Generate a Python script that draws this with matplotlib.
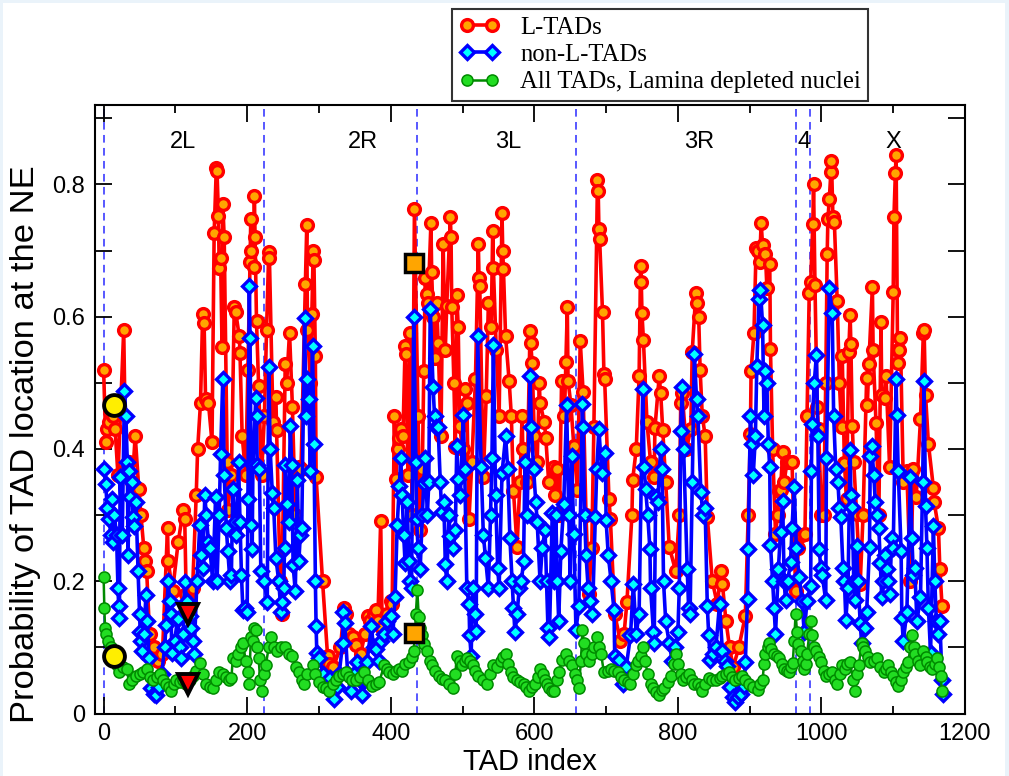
import numpy as np
import matplotlib.pyplot as plt
from matplotlib.patches import Rectangle

# (TAD index, probability)
ltads = [
    (0, 0.52), (3, 0.41), (5, 0.43), (8, 0.44), (10, 0.46), (13, 0.45), (16, 0.43), (20, 0.36),
    (28, 0.58), (31, 0.37), (35, 0.38), (40, 0.35), (44, 0.42), (49, 0.34), (52, 0.30), (56, 0.25),
    (58, 0.23), (60, 0.215), (64, 0.12), (70, 0.10), (76, 0.08), (82, 0.09), (89, 0.28), (90, 0.23),
    (96, 0.185), (104, 0.26), (111, 0.308), (113, 0.294), (115, 0.18), (120, 0.17), (124, 0.19),
    (129, 0.33), (131, 0.40), (135, 0.47), (138, 0.604), (140, 0.59), (142, 0.476), (146, 0.47),
    (151, 0.41), (154, 0.727), (157, 0.825), (158, 0.82), (160, 0.752), (161, 0.674), (163, 0.688),
    (165, 0.554), (166, 0.77), (168, 0.72), (172, 0.38), (173, 0.307), (178, 0.36), (182, 0.615),
    (184, 0.607), (189, 0.57), (190, 0.545), (193, 0.42), (198, 0.36), (201, 0.52), (204, 0.683),
    (205, 0.747), (206, 0.70), (209, 0.675), (210, 0.783), (211, 0.72), (213, 0.593), (216, 0.495),
    (220, 0.36), (224, 0.45), (227, 0.58), (230, 0.697), (231, 0.688), (236, 0.44), (240, 0.478),
    (241, 0.428), (246, 0.20), (248, 0.15), (253, 0.529), (255, 0.50), (259, 0.576), (263, 0.464),
    (267, 0.30), (272, 0.372), (275, 0.37), (281, 0.649), (283, 0.738), (284, 0.58), (288, 0.50),
    (290, 0.604), (292, 0.70), (293, 0.685), (295, 0.54), (296, 0.357), (305, 0.20), (312, 0.087),
    (314, 0.075), (320, 0.07), (330, 0.10), (335, 0.159), (337, 0.15), (342, 0.12), (347, 0.115),
    (352, 0.104), (358, 0.09), (364, 0.12), (368, 0.148), (371, 0.14), (376, 0.15), (379, 0.157),
    (382, 0.14), (386, 0.291), (388, 0.13), (395, 0.15), (400, 0.17), (402, 0.165), (405, 0.45),
    (407, 0.355), (410, 0.40), (412, 0.417), (414, 0.43), (417, 0.42), (420, 0.555), (421, 0.543),
    (424, 0.36), (427, 0.576), (430, 0.30), (433, 0.763), (438, 0.45), (441, 0.277), (444, 0.37),
    (446, 0.518), (448, 0.658), (450, 0.635), (452, 0.62), (456, 0.742), (457, 0.668), (459, 0.60),
    (462, 0.538), (464, 0.62), (466, 0.56), (470, 0.42), (473, 0.71), (476, 0.55), (478, 0.616),
    (483, 0.75), (484, 0.72), (485, 0.615), (488, 0.50), (490, 0.403), (492, 0.632), (494, 0.585),
    (496, 0.435), (500, 0.40), (504, 0.49), (506, 0.47), (509, 0.294), (513, 0.38), (518, 0.505),
    (522, 0.71), (523, 0.658), (524, 0.647), (529, 0.357), (533, 0.48), (536, 0.62), (540, 0.585),
    (542, 0.73), (543, 0.674), (547, 0.55), (551, 0.45), (555, 0.757), (556, 0.70), (557, 0.672),
    (560, 0.57), (565, 0.502), (568, 0.45), (571, 0.336), (576, 0.252), (580, 0.35), (583, 0.45),
    (584, 0.40), (590, 0.35), (594, 0.578), (595, 0.56), (597, 0.53), (600, 0.42), (604, 0.38),
    (607, 0.50), (608, 0.47), (614, 0.44), (616, 0.417), (620, 0.35), (627, 0.372), (629, 0.33),
    (632, 0.37), (635, 0.30), (638, 0.503), (642, 0.45), (644, 0.532), (646, 0.614), (647, 0.503),
    (651, 0.467), (655, 0.405), (660, 0.338), (664, 0.563), (668, 0.486), (672, 0.30), (676, 0.18),
    (680, 0.25), (683, 0.433), (688, 0.806), (689, 0.79), (690, 0.733), (691, 0.717), (695, 0.607),
    (697, 0.513), (698, 0.505), (704, 0.325), (706, 0.294), (712, 0.15), (720, 0.109), (725, 0.12),
    (729, 0.168), (736, 0.30), (737, 0.353), (742, 0.40), (746, 0.51), (748, 0.676), (749, 0.653),
    (750, 0.605), (752, 0.565), (757, 0.44), (762, 0.38), (767, 0.357), (768, 0.431), (774, 0.51),
    (776, 0.485), (779, 0.428), (783, 0.35), (788, 0.252), (797, 0.215), (802, 0.30), (804, 0.47),
    (806, 0.484), (812, 0.40), (818, 0.43), (820, 0.547), (825, 0.636), (827, 0.62), (829, 0.60),
    (831, 0.52), (834, 0.45), (838, 0.42), (841, 0.297), (848, 0.20), (855, 0.165), (860, 0.215),
    (862, 0.196), (867, 0.14), (872, 0.10), (877, 0.07), (885, 0.10), (894, 0.148), (898, 0.30),
    (901, 0.422), (902, 0.518), (906, 0.576), (909, 0.704), (911, 0.70), (914, 0.683), (916, 0.742),
    (918, 0.708), (922, 0.694), (924, 0.644), (928, 0.68), (929, 0.551), (932, 0.40), (936, 0.272),
    (939, 0.30), (941, 0.336), (943, 0.338), (946, 0.395), (948, 0.35), (952, 0.38), (955, 0.38),
    (959, 0.38), (964, 0.185), (968, 0.25), (973, 0.27), (977, 0.272), (980, 0.45), (983, 0.636),
    (985, 0.652), (988, 0.74), (989, 0.80), (991, 0.648), (994, 0.464), (996, 0.43), (1000, 0.30),
    (1003, 0.30), (1006, 0.50), (1008, 0.694), (1009, 0.747), (1011, 0.778), (1013, 0.818),
    (1014, 0.835), (1016, 0.75), (1018, 0.743), (1022, 0.623), (1025, 0.50), (1028, 0.433),
    (1029, 0.54), (1032, 0.378), (1035, 0.325), (1038, 0.546), (1040, 0.602), (1041, 0.559),
    (1043, 0.434), (1045, 0.38), (1049, 0.302), (1054, 0.196), (1058, 0.30), (1063, 0.507),
    (1064, 0.467), (1066, 0.528), (1071, 0.645), (1072, 0.549), (1076, 0.439), (1080, 0.30),
    (1083, 0.592), (1084, 0.482), (1088, 0.477), (1090, 0.51), (1095, 0.372), (1100, 0.637),
    (1101, 0.75), (1103, 0.817), (1104, 0.845), (1106, 0.55), (1107, 0.53), (1108, 0.549),
    (1110, 0.568), (1114, 0.35), (1119, 0.366), (1124, 0.20), (1128, 0.369), (1132, 0.327),
    (1138, 0.445), (1142, 0.576), (1143, 0.58), (1145, 0.482), (1149, 0.408), (1156, 0.341),
    (1157, 0.32), (1163, 0.28), (1165, 0.218), (1168, 0.163),
]

non_ltads = [
    (1, 0.37), (3, 0.347), (5, 0.31), (8, 0.294), (10, 0.27), (11, 0.325), (13, 0.26), (15, 0.30),
    (18, 0.27), (20, 0.19), (21, 0.162), (22, 0.145), (23, 0.357), (26, 0.27), (29, 0.488),
    (31, 0.45), (33, 0.38), (34, 0.24), (36, 0.366), (37, 0.327), (39, 0.35), (41, 0.297),
    (43, 0.283), (45, 0.32), (48, 0.215), (50, 0.151), (51, 0.123), (52, 0.109), (54, 0.095),
    (56, 0.12), (59, 0.179), (61, 0.14), (63, 0.084), (66, 0.039), (70, 0.03), (73, 0.028),
    (77, 0.04), (81, 0.06), (85, 0.10), (87, 0.134), (90, 0.20), (92, 0.17), (94, 0.151),
    (95, 0.092), (99, 0.11), (103, 0.143), (106, 0.10), (108, 0.084), (111, 0.12), (113, 0.199),
    (116, 0.17), (120, 0.148), (122, 0.13), (124, 0.11), (126, 0.09), (130, 0.20), (134, 0.285),
    (136, 0.24), (138, 0.22), (141, 0.33), (143, 0.30), (146, 0.26), (148, 0.25), (152, 0.20),
    (156, 0.327), (158, 0.20), (161, 0.30), (163, 0.393), (166, 0.506), (168, 0.36), (171, 0.28),
    (173, 0.246), (176, 0.20), (178, 0.21), (180, 0.34), (183, 0.29), (185, 0.27), (188, 0.38),
    (190, 0.29), (192, 0.21), (194, 0.157), (197, 0.16), (200, 0.154), (201, 0.325), (203, 0.646),
    (204, 0.568), (206, 0.285), (207, 0.249), (208, 0.375), (212, 0.477), (213, 0.45), (214, 0.375),
    (217, 0.37), (219, 0.215), (224, 0.20), (228, 0.168), (230, 0.524), (232, 0.40), (235, 0.333),
    (237, 0.31), (240, 0.235), (244, 0.20), (247, 0.154), (249, 0.168), (251, 0.19), (252, 0.25),
    (253, 0.375), (256, 0.316), (258, 0.29), (260, 0.435), (262, 0.375), (264, 0.224), (267, 0.185),
    (270, 0.353), (272, 0.23), (274, 0.27), (276, 0.28), (280, 0.598), (282, 0.45), (284, 0.506),
    (286, 0.475), (288, 0.366), (291, 0.556), (293, 0.408), (295, 0.201), (296, 0.132), (297, 0.092),
    (300, 0.084), (306, 0.06), (312, 0.04), (316, 0.053), (321, 0.022), (325, 0.04), (328, 0.059),
    (333, 0.106), (334, 0.154), (336, 0.137), (340, 0.06), (344, 0.034), (349, 0.06), (353, 0.078),
    (357, 0.05), (360, 0.028), (364, 0.05), (367, 0.078), (373, 0.132), (376, 0.10), (379, 0.098),
    (383, 0.08), (386, 0.109), (390, 0.12), (395, 0.14), (400, 0.148), (403, 0.12), (406, 0.176),
    (409, 0.285), (412, 0.344), (414, 0.386), (416, 0.33), (418, 0.27), (420, 0.227), (423, 0.32),
    (425, 0.23), (427, 0.20), (429, 0.19), (432, 0.60), (435, 0.38), (436, 0.294), (438, 0.25),
    (441, 0.218), (444, 0.30), (446, 0.348), (448, 0.386), (451, 0.30), (453, 0.35), (455, 0.612),
    (459, 0.493), (461, 0.45), (463, 0.433), (466, 0.433), (469, 0.35), (471, 0.305), (474, 0.32),
    (476, 0.226), (478, 0.20), (481, 0.30), (483, 0.268), (487, 0.25), (490, 0.277), (492, 0.405),
    (494, 0.355), (497, 0.33), (501, 0.452), (503, 0.37), (506, 0.19), (509, 0.165), (510, 0.118),
    (512, 0.087), (514, 0.19), (517, 0.15), (519, 0.125), (521, 0.57), (526, 0.372), (529, 0.27),
    (532, 0.235), (536, 0.19), (539, 0.30), (541, 0.386), (543, 0.557), (546, 0.33), (549, 0.22),
    (551, 0.19), (555, 0.363), (560, 0.419), (563, 0.37), (566, 0.265), (569, 0.20), (571, 0.16),
    (573, 0.123), (576, 0.15), (579, 0.19), (582, 0.20), (585, 0.23), (587, 0.38), (590, 0.30),
    (594, 0.51), (596, 0.433), (599, 0.37), (602, 0.32), (604, 0.29), (608, 0.20), (611, 0.25),
    (615, 0.277), (617, 0.20), (619, 0.13), (621, 0.115), (625, 0.303), (628, 0.20), (630, 0.30),
    (632, 0.20), (634, 0.14), (637, 0.246), (641, 0.316), (645, 0.467), (648, 0.30), (650, 0.20),
    (652, 0.389), (655, 0.272), (658, 0.126), (662, 0.162), (667, 0.468), (668, 0.433), (670, 0.30),
    (672, 0.24), (675, 0.19), (678, 0.17), (681, 0.15), (685, 0.297), (687, 0.37), (690, 0.43),
    (694, 0.363), (699, 0.394), (700, 0.292), (703, 0.24), (707, 0.20), (711, 0.157), (712, 0.087),
    (718, 0.081), (723, 0.045), (728, 0.07), (734, 0.118), (738, 0.196), (742, 0.12), (746, 0.151),
    (751, 0.49), (753, 0.372), (755, 0.34), (758, 0.30), (761, 0.249), (762, 0.19), (766, 0.123),
    (767, 0.106), (769, 0.327), (772, 0.32), (776, 0.40), (778, 0.37), (780, 0.20), (783, 0.14),
    (788, 0.106), (792, 0.08), (796, 0.10), (800, 0.123), (802, 0.19), (804, 0.427), (806, 0.493),
    (808, 0.40), (813, 0.218), (815, 0.16), (817, 0.15), (820, 0.35), (823, 0.543), (826, 0.475),
    (828, 0.45), (832, 0.335), (835, 0.30), (838, 0.31), (841, 0.162), (843, 0.118), (845, 0.081),
    (849, 0.09), (853, 0.10), (858, 0.165), (862, 0.095), (865, 0.08), (869, 0.072), (873, 0.04),
    (877, 0.025), (880, 0.017), (884, 0.025), (888, 0.03), (892, 0.042), (894, 0.078), (897, 0.173),
    (898, 0.249), (901, 0.45), (903, 0.408), (905, 0.36), (908, 0.42), (910, 0.526), (913, 0.627),
    (915, 0.64), (918, 0.588), (920, 0.45), (922, 0.518), (924, 0.50), (926, 0.408), (928, 0.372),
    (929, 0.255), (932, 0.20), (934, 0.16), (936, 0.12), (940, 0.218), (943, 0.274), (946, 0.322),
    (948, 0.20), (950, 0.171), (953, 0.20), (957, 0.229), (959, 0.28), (962, 0.343), (965, 0.25),
    (969, 0.207), (973, 0.17), (976, 0.123), (980, 0.17), (985, 0.193), (986, 0.366), (987, 0.437),
    (990, 0.50), (993, 0.542), (995, 0.42), (997, 0.249), (999, 0.22), (1001, 0.21), (1006, 0.171),
    (1007, 0.386), (1011, 0.643), (1015, 0.606), (1017, 0.45), (1020, 0.369), (1023, 0.35),
    (1025, 0.31), (1027, 0.297), (1030, 0.22), (1032, 0.20), (1034, 0.142), (1037, 0.19),
    (1040, 0.398), (1041, 0.33), (1043, 0.312), (1045, 0.20), (1047, 0.171), (1049, 0.254),
    (1051, 0.20), (1054, 0.137), (1056, 0.106), (1060, 0.13), (1063, 0.154), (1067, 0.252),
    (1068, 0.39), (1070, 0.404), (1073, 0.36), (1075, 0.32), (1077, 0.30), (1080, 0.28),
    (1082, 0.227), (1084, 0.176), (1086, 0.20), (1088, 0.24), (1091, 0.218), (1093, 0.20),
    (1095, 0.18), (1098, 0.266), (1100, 0.25), (1104, 0.506), (1105, 0.452), (1107, 0.366),
    (1111, 0.246), (1112, 0.145), (1114, 0.109), (1119, 0.154), (1124, 0.358), (1126, 0.266),
    (1128, 0.21), (1130, 0.22), (1133, 0.14), (1138, 0.176), (1141, 0.35), (1143, 0.502),
    (1145, 0.313), (1147, 0.25), (1149, 0.16), (1152, 0.092), (1156, 0.283), (1158, 0.20),
    (1160, 0.14), (1163, 0.12), (1165, 0.14), (1168, 0.05), (1169, 0.03),
]

lamina_depleted = [
    (0, 0.207), (1, 0.16), (2, 0.13), (3, 0.12), (6, 0.11), (10, 0.10), (14, 0.09), (18, 0.073),
    (22, 0.062), (27, 0.07), (32, 0.067), (36, 0.045), (40, 0.05), (45, 0.056), (50, 0.06),
    (55, 0.062), (60, 0.067), (65, 0.055), (69, 0.05), (74, 0.055), (78, 0.059), (83, 0.05),
    (87, 0.045), (91, 0.04), (94, 0.034), (98, 0.045), (101, 0.05), (106, 0.047), (110, 0.05),
    (115, 0.045), (120, 0.05), (124, 0.056), (129, 0.065), (134, 0.076), (138, 0.06), (143, 0.045),
    (148, 0.04), (152, 0.039), (157, 0.05), (161, 0.062), (166, 0.06), (170, 0.055), (174, 0.05),
    (178, 0.053), (180, 0.084), (184, 0.08), (187, 0.09), (191, 0.10), (194, 0.106), (198, 0.08),
    (201, 0.062), (203, 0.045), (205, 0.115), (208, 0.11), (210, 0.129), (212, 0.126), (214, 0.10),
    (216, 0.084), (218, 0.05), (221, 0.034), (224, 0.06), (226, 0.073), (230, 0.10), (233, 0.115),
    (237, 0.10), (242, 0.095), (247, 0.10), (253, 0.10), (258, 0.09), (263, 0.087), (268, 0.07),
    (272, 0.062), (276, 0.05), (279, 0.045), (284, 0.06), (291, 0.073), (295, 0.06), (300, 0.048),
    (305, 0.04), (310, 0.038), (314, 0.034), (320, 0.045), (324, 0.05), (328, 0.056), (333, 0.06),
    (337, 0.062), (342, 0.055), (346, 0.05), (351, 0.05), (357, 0.055), (363, 0.062), (368, 0.05),
    (374, 0.042), (379, 0.045), (384, 0.048), (391, 0.073), (395, 0.068), (398, 0.062), (403, 0.06),
    (407, 0.065), (412, 0.067), (416, 0.065), (420, 0.075), (425, 0.078), (429, 0.085), (432, 0.095),
    (434, 0.123), (435, 0.151), (437, 0.187), (439, 0.146), (441, 0.13), (444, 0.118), (447, 0.105),
    (450, 0.095), (454, 0.08), (457, 0.073), (462, 0.065), (467, 0.056), (472, 0.052), (476, 0.05),
    (481, 0.045), (487, 0.039), (490, 0.06), (492, 0.087), (496, 0.08), (499, 0.073), (503, 0.08),
    (506, 0.084), (510, 0.08), (515, 0.073), (518, 0.065), (522, 0.056), (528, 0.05), (534, 0.045),
    (538, 0.06), (543, 0.073), (548, 0.07), (553, 0.08), (556, 0.085), (560, 0.09), (563, 0.075),
    (567, 0.062), (571, 0.055), (576, 0.05), (580, 0.048), (585, 0.045), (589, 0.04), (592, 0.034),
    (597, 0.04), (601, 0.045), (605, 0.055), (608, 0.067), (612, 0.06), (615, 0.05), (618, 0.045),
    (620, 0.039), (625, 0.034), (627, 0.034), (631, 0.05), (634, 0.062), (639, 0.081), (644, 0.09),
    (648, 0.08), (653, 0.073), (656, 0.06), (660, 0.05), (662, 0.039), (665, 0.08), (667, 0.126),
    (669, 0.106), (672, 0.09), (676, 0.08), (680, 0.09), (683, 0.10), (688, 0.115), (690, 0.10),
    (693, 0.09), (697, 0.062), (702, 0.065), (707, 0.067), (711, 0.065), (716, 0.062), (721, 0.055),
    (725, 0.05), (730, 0.048), (734, 0.045), (738, 0.06), (741, 0.073), (745, 0.08), (748, 0.087),
    (751, 0.10), (754, 0.08), (758, 0.06), (762, 0.045), (765, 0.039), (770, 0.032), (774, 0.028),
    (778, 0.035), (781, 0.039), (786, 0.048), (790, 0.056), (794, 0.075), (797, 0.09), (800, 0.075),
    (804, 0.06), (807, 0.05), (812, 0.055), (816, 0.059), (820, 0.05), (823, 0.045), (828, 0.045),
    (832, 0.04), (834, 0.034), (838, 0.045), (843, 0.053), (848, 0.05), (853, 0.05), (858, 0.053),
    (862, 0.056), (867, 0.06), (871, 0.062), (876, 0.055), (880, 0.05), (885, 0.053), (890, 0.056),
    (894, 0.05), (899, 0.045), (905, 0.04), (911, 0.036), (915, 0.045), (918, 0.05), (920, 0.075),
    (922, 0.09), (925, 0.10), (927, 0.106), (930, 0.098), (934, 0.09), (938, 0.087), (941, 0.084),
    (945, 0.075), (948, 0.067), (952, 0.065), (955, 0.062), (958, 0.07), (960, 0.076), (962, 0.11),
    (964, 0.151), (966, 0.123), (968, 0.105), (971, 0.095), (974, 0.08), (976, 0.067), (978, 0.075),
    (980, 0.09), (983, 0.12), (985, 0.14), (987, 0.118), (990, 0.10), (992, 0.095), (996, 0.085),
    (999, 0.078), (1003, 0.065), (1006, 0.056), (1010, 0.06), (1015, 0.062), (1019, 0.05),
    (1022, 0.045), (1026, 0.06), (1029, 0.073), (1033, 0.067), (1036, 0.075), (1040, 0.078),
    (1044, 0.05), (1047, 0.034), (1050, 0.06), (1052, 0.073), (1056, 0.106), (1058, 0.10),
    (1061, 0.095), (1065, 0.085), (1068, 0.078), (1073, 0.08), (1077, 0.084), (1082, 0.07),
    (1087, 0.062), (1090, 0.068), (1093, 0.073), (1097, 0.062), (1100, 0.056), (1104, 0.048),
    (1107, 0.042), (1111, 0.05), (1114, 0.062), (1118, 0.07), (1121, 0.078), (1124, 0.10),
    (1126, 0.118), (1129, 0.10), (1131, 0.09), (1135, 0.08), (1138, 0.073), (1142, 0.095),
    (1145, 0.085), (1147, 0.078), (1151, 0.07), (1154, 0.067), (1158, 0.075), (1161, 0.084),
    (1164, 0.07), (1166, 0.056), (1168, 0.034),
]

# chromosome arms
chrom_names = ['2L', '2R', '3L', '3R', '4', 'X']
chrom_label_x = [110, 361, 563, 830, 976, 1100]
chrom_bounds = [0, 224, 436, 658, 965, 984]

# highlighted TADs
circle_pts = [(14, 0.467), (14, 0.087)]
triangle_pts = [(118, 0.151), (118, 0.044)]
square_pts = [(432, 0.681), (432, 0.122)]

sans = ['Liberation Sans', 'DejaVu Sans']
serif = ['Liberation Serif', 'DejaVu Serif']


def main():
    plt.rcParams['font.family'] = sans
    fig = plt.figure(figsize=(10.09, 7.76), dpi=100)
    fig.patch.set_facecolor('#eaf3fa')
    # white page area, the light blue only shows as a thin border
    page = Rectangle((3 / 1009, 0), 1002 / 1009, 773 / 776, transform=fig.transFigure,
                     facecolor='white', edgecolor='none', zorder=-10)
    fig.patches.append(page)
    ax = fig.add_axes([95 / 1009, 1 - 713.5 / 776, 870 / 1009, 608.5 / 776])
    ax.set_zorder(1)

    for b in chrom_bounds:
        ax.axvline(b, color='#2a2aff', linestyle=(0, (5, 3.5)), linewidth=1.1, zorder=1)

    x, y = zip(*ltads)
    ax.plot(x, y, color='red', linewidth=2.6, marker='o', markersize=8.5,
            markerfacecolor='#ffa500', markeredgecolor='red', markeredgewidth=2.4,
            label='L-TADs', zorder=3)
    x, y = zip(*non_ltads)
    ax.plot(x, y, color='blue', linewidth=2.6, marker='D', markersize=7,
            markerfacecolor='cyan', markeredgecolor='blue', markeredgewidth=2.4,
            label='non-L-TADs', zorder=4)
    x, y = zip(*lamina_depleted)
    ax.plot(x, y, color='#008a00', linewidth=1.8, marker='o', markersize=8,
            markerfacecolor='#22dd22', markeredgecolor='#008a00', markeredgewidth=1.1,
            label='All TADs, Lamina depleted nuclei', zorder=5)

    x, y = zip(*circle_pts)
    ax.plot(x, y, linestyle='none', marker='o', markersize=15, markerfacecolor='#ffee00',
            markeredgecolor='black', markeredgewidth=2.8, zorder=6)
    x, y = zip(*triangle_pts)
    ax.plot(x, y, linestyle='none', marker='v', markersize=15, markerfacecolor='red',
            markeredgecolor='black', markeredgewidth=2.8, zorder=6)
    x, y = zip(*square_pts)
    ax.plot(x, y, linestyle='none', marker='s', markersize=13, markerfacecolor='#ffa500',
            markeredgecolor='black', markeredgewidth=2.5, zorder=6)

    for name, cx in zip(chrom_names, chrom_label_x):
        ax.text(cx, 0.864, name, ha='center', va='center', fontsize=17, zorder=7)

    ax.set_xlim(-12, 1200)
    ax.set_ylim(0, 0.92)
    ax.set_xticks(np.arange(0, 1201, 200))
    ax.set_xticks(np.arange(0, 1201, 100), minor=True)
    ax.set_yticks(np.arange(0, 0.81, 0.2))
    ax.set_yticks(np.arange(0, 0.91, 0.1), minor=True)
    ax.set_yticklabels(['0', '0.2', '0.4', '0.6', '0.8'])
    ax.tick_params(which='both', direction='in', top=True, right=True, width=1.3,
                   labelsize=17, pad=7)
    ax.tick_params(axis='x', which='major', length=12)
    ax.tick_params(axis='x', which='minor', length=6)
    ax.tick_params(axis='y', which='both', length=12)
    for s in ax.spines.values():
        s.set_linewidth(1.5)

    ax.set_xlabel('TAD index', fontsize=21, labelpad=2)
    ax.set_ylabel('Probability of TAD location at the NE', fontsize=24.8)
    ax.yaxis.set_label_coords(-0.062, 0.443)

    leg = fig.legend(loc='upper left', bbox_to_anchor=(452 / 1009, 1 - 9 / 776),
                     prop={'family': serif, 'size': 17.8}, frameon=True, fancybox=False,
                     edgecolor='black', handlelength=1.6, numpoints=2,
                     borderpad=0.3, labelspacing=0.2, handletextpad=0.85,
                     borderaxespad=0)
    leg.get_frame().set_linewidth(1.5)

    fig.savefig('out.png', dpi=100, facecolor=fig.get_facecolor())


if __name__ == '__main__':
    main()
